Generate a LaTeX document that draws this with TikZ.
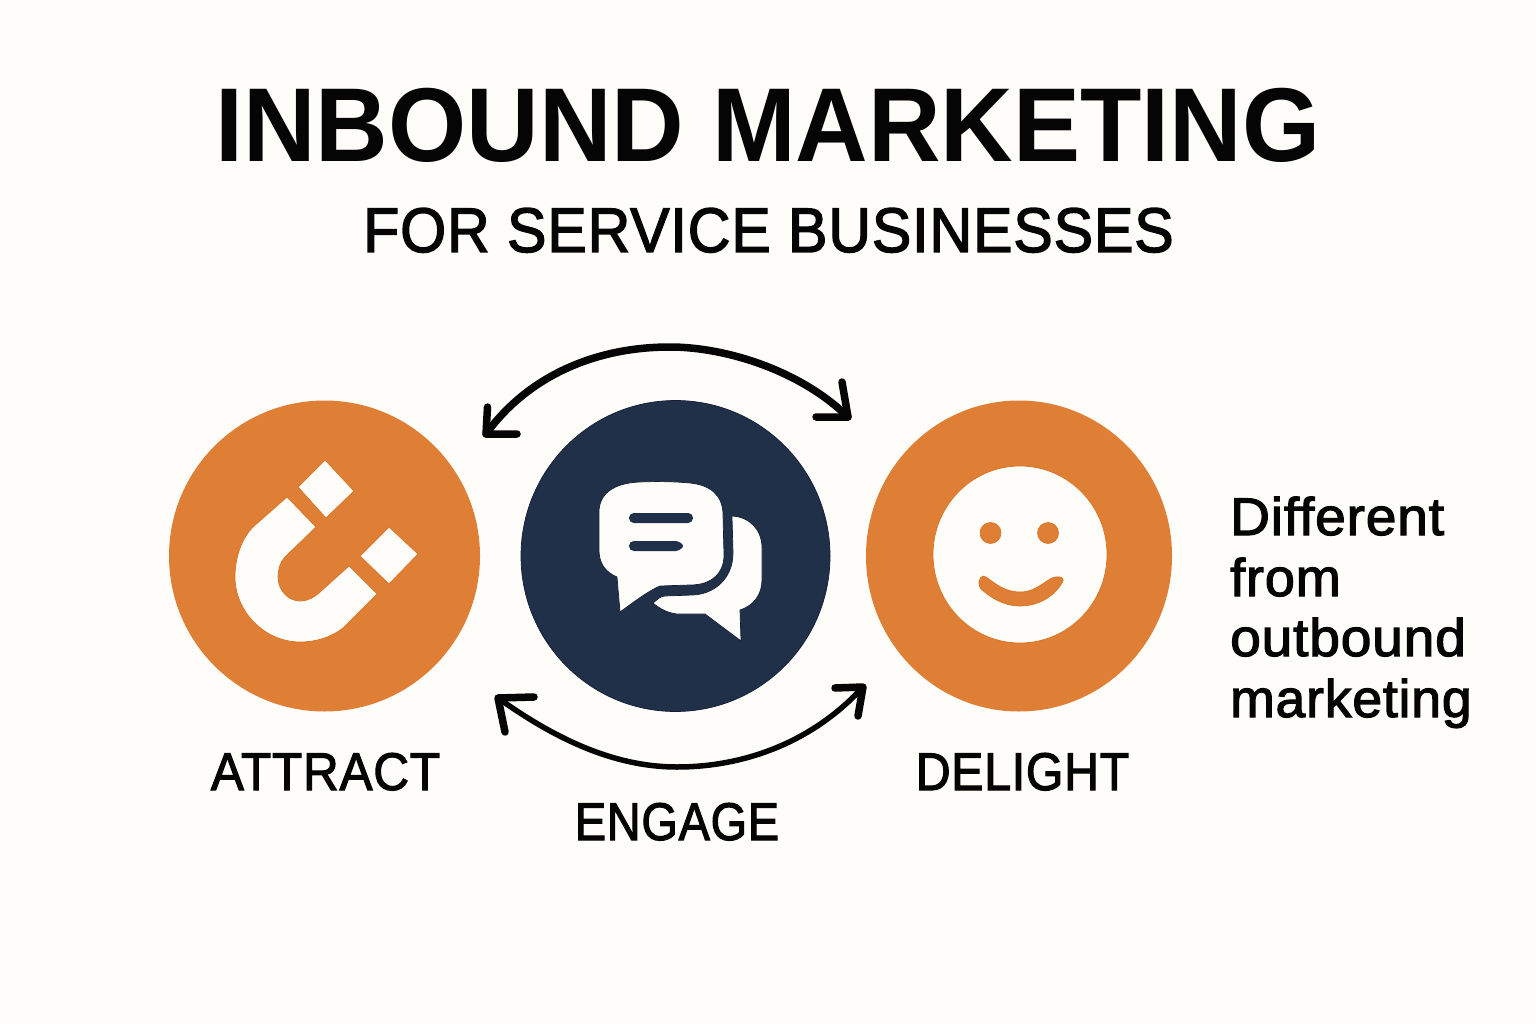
\documentclass[tikz,border=0pt]{standalone}
\usepackage{fontspec}
\setmainfont{Liberation Sans}
\newfontfamily\medfont[FakeBold=2.2,LetterSpace=1.5]{Liberation Sans}
\usetikzlibrary{shapes.geometric}
\definecolor{bgc}{HTML}{FFFDFA}
\definecolor{orangec}{HTML}{DF7F35}
\definecolor{orangee}{HTML}{D9701F}
\definecolor{navyc}{HTML}{213049}
\definecolor{navye}{HTML}{121D33}
\definecolor{inkc}{HTML}{050505}
\tikzset{
  disc/.style={ellipse,inner sep=0pt,outer sep=0pt},
  whiteon/.style={fill=bgc,draw=orangee,line width=0.7pt,line join=round},
  whitenavy/.style={fill=bgc,draw=navye,line width=0.7pt,line join=round},
  label/.style={anchor=base,inner sep=0pt,text=inkc},
  sidetext/.style={anchor=base west,inner sep=0pt,text=inkc,font=\medfont\fontsize{53}{53}\selectfont},
  cycleA/.style={draw=inkc,line width=7.5pt,line cap=round},
  cycleB/.style={draw=inkc,line width=5.5pt,line cap=round},
  barbs/.style={draw=inkc,line width=7.5pt,line cap=round,line join=round},
}
\begin{document}
\begin{tikzpicture}[x=1pt,y=-1pt]
\fill[bgc] (0,0) rectangle (1536,1024);
\useasboundingbox (0,0) rectangle (1536,1024);
% titles
\node[label,font=\bfseries\fontsize{105}{105}\selectfont] (title) at (768,162) {\scalebox{.957}[1]{INBOUND MARKETING}};
\node[label,font=\medfont\fontsize{63}{63}\selectfont] (subtitle) at (768.5,252) {\scalebox{.938}[1]{FOR SERVICE BUSINESSES}};
% discs
\node[disc,fill=orangec,minimum width=311pt,minimum height=311pt] (attract) at (324.5,556) {};
\node[disc,fill=navyc,draw=navye,line width=0.7pt,minimum width=309pt,minimum height=311pt] (engage) at (675.5,556) {};
\node[disc,fill=orangec,minimum width=306pt,minimum height=311pt] (delight) at (1019,556) {};
% magnet
\fill[whiteon] (287,497) -- (316,527) -- (285,557) .. controls (280,562) and (278,570) .. (278,577)
  .. controls (278,590) and (288,601) .. (300,601) .. controls (308,601) and (315,597) .. (320,592)
  -- (349,566) -- (377,594) -- (343,628) .. controls (330,638) and (315,642) .. (300,642)
  .. controls (265,642) and (235,612) .. (235,577) .. controls (235,555) and (243,537) .. (253,527) -- cycle;
\fill[whiteon] (325,460) -- (354,491) -- (326,518) -- (298,487) -- cycle;
\fill[whiteon] (389,527) -- (418,554) -- (389,584) -- (360,556) -- cycle;
% back bubble
\fill[whitenavy] (732,516) .. controls (750,517) and (762,530) .. (762,548) -- (762,580)
  .. controls (762,595) and (753,606) .. (740,610) -- (741,641) -- (705,614) -- (677,614)
  .. controls (668,613) and (660,609) .. (653,603) .. controls (657,600) and (660,596) .. (665,596)
  -- (693,595) .. controls (715,594) and (733,578) .. (733,553) -- cycle;
% front bubble
\fill[whitenavy] (640,482) .. controls (660,481) and (680,482) .. (690,483)
  .. controls (710,485) and (723,495) .. (723,515) -- (724,555)
  .. controls (724,573) and (712,585) .. (690,585) -- (660,586)
  .. controls (650,590) and (635,601) .. (620,612) -- (617,577)
  .. controls (605,572) and (599,563) .. (599,550) -- (599,512)
  .. controls (599,495) and (612,483) .. (640,482) -- cycle;
\fill[navyc,rounded corners=4.8pt] (629,513) rectangle (693,523);
\fill[navyc] (634,541) -- (676,541) .. controls (680,542) and (683,544) .. (683,546)
  .. controls (683,548) and (680,550) .. (676,551) -- (634,551) .. controls (631,551) and (629,549) .. (629,546)
  .. controls (629,543) and (631,541) .. (634,541) -- cycle;
% smile
\node[disc,whiteon,minimum width=174pt,minimum height=177pt] (face) at (1020,554.5) {};
\fill[orangec,draw=orangee,line width=0.6pt] (990.5,533) circle[radius=10.5];
\fill[orangec,draw=orangee,line width=0.6pt] (1048,533) circle[radius=10.5];
\fill[orangec,draw=orangee,line width=0.6pt] (983,576) .. controls (988,576) and (1000,592) .. (1020,592)
  .. controls (1038,592) and (1048,577) .. (1056,577) .. controls (1062,576) and (1065,579) .. (1062,583)
  .. controls (1055,595) and (1040,606) .. (1020,606) .. controls (1003,606) and (990,597) .. (981,589)
  .. controls (977,585) and (979,577) .. (983,576) -- cycle;
% arrows
\coordinate (topL) at (486,434);
\coordinate (topM) at (670,347);
\coordinate (topR) at (848,417);
\coordinate (botL) at (498,698);
\coordinate (botM) at (677,767);
\coordinate (botR) at (863,687);
\draw[cycleA] (topL) .. controls (525,380) and (590,347) .. (topM) .. controls (725,347) and (800,370) .. (topR);
\draw[cycleB] (botL) .. controls (550,735) and (610,767) .. (botM) .. controls (740,767) and (810,745) .. (botR);
\draw[barbs] (487.5,407) -- (topL) -- (517,434);
\draw[barbs] (842,382) -- (topR) -- (816,417);
\draw[barbs] (534,697) -- (botL) -- (505,732);
\draw[barbs] (835,688) -- (botR) -- (858,716);
% labels
\node[label,font=\medfont\fontsize{53}{53}\selectfont] (lattract) at (325.5,790) {\scalebox{.935}[1]{ATTRACT}};
\node[label,font=\medfont\fontsize{53}{53}\selectfont] (lengage) at (677,840) {\scalebox{.885}[1]{ENGAGE}};
\node[label,font=\medfont\fontsize{53}{53}\selectfont] (ldelight) at (1022.5,790) {\scalebox{.91}[1]{DELIGHT}};
\node[sidetext] (s1) at (1230,535) {\scalebox{1.04}[1]{Different}};
\node[sidetext] (s2) at (1230,596) {\scalebox{1.02}[1]{from}};
\node[sidetext] (s3) at (1230,656) {\scalebox{1.04}[1]{outbound}};
\node[sidetext] (s4) at (1230,717) {\scalebox{1.01}[1]{marketing}};
\end{tikzpicture}
\end{document}
